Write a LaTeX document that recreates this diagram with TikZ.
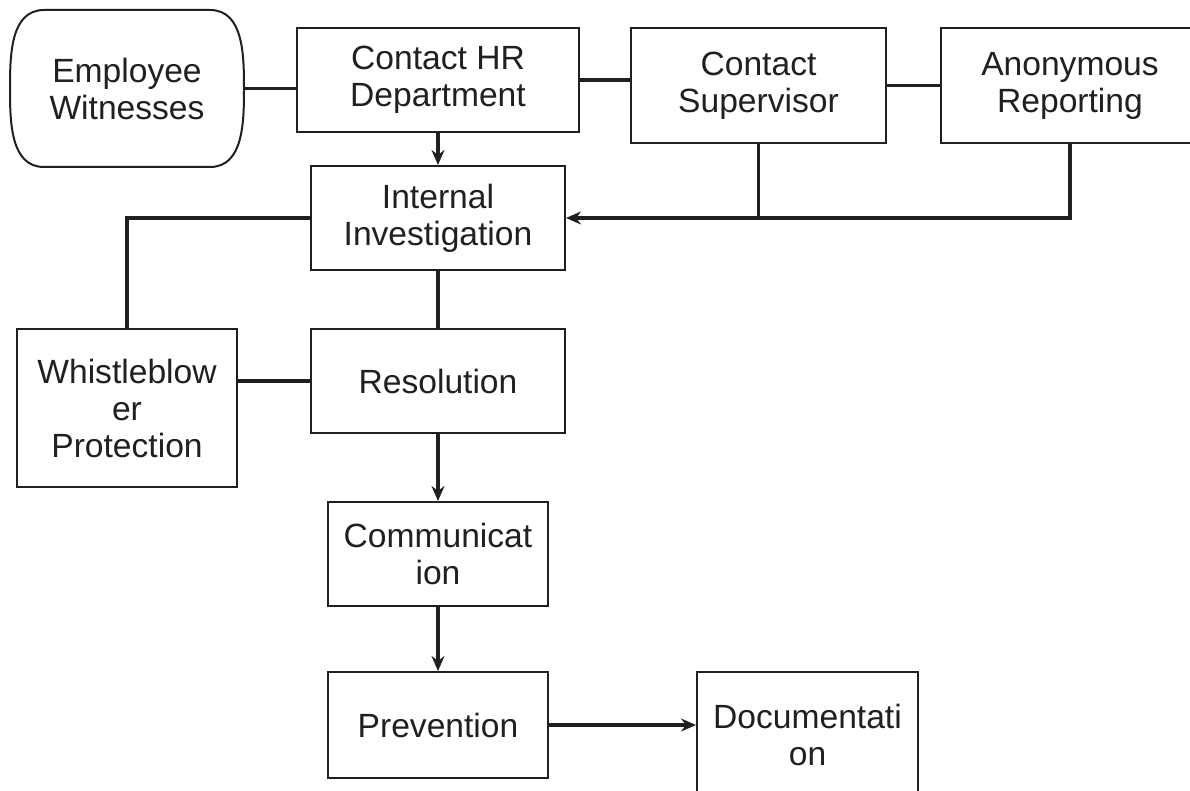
\documentclass[tikz,border=0pt]{standalone}
\usepackage{fontspec}
\setmainfont{Liberation Sans}
\usetikzlibrary{arrows.meta}
\definecolor{ink}{HTML}{231F20}

\begin{document}
\begin{tikzpicture}[x=0.5pt, y=-0.5pt,
  boxstyle/.style={draw=ink, line width=1pt, align=center, inner sep=0pt, text=ink, font=\fontsize{16.8}{18.5}\selectfont},
  flowline/.style={draw=ink, line width=1.9pt},
  >={Stealth[length=7.5pt, width=6.5pt, inset=2.5pt]}]
  \fill[white] (0,0) rectangle (1190,791);
  \useasboundingbox (0,0) rectangle (1190,791);

  % top row
  \node [boxstyle, draw=none, minimum width=116pt, minimum height=77.5pt] (EmpWit) at (127,88.5) {Employee\\Witnesses};
  \draw [ink, line width=1pt] ([xshift=17pt]EmpWit.north west) -- ([xshift=-17pt]EmpWit.north east)
    to[out=0, in=90] (EmpWit.east) to[out=-90, in=0] ([xshift=-17pt]EmpWit.south east)
    -- ([xshift=17pt]EmpWit.south west) to[out=180, in=-90] (EmpWit.west) to[out=90, in=180] cycle;
  \node [boxstyle, minimum width=141pt, minimum height=52pt] (ContactHR) at (438,80) {Contact HR\\Department};
  \node [boxstyle, minimum width=127.5pt, minimum height=57.5pt] (ContactSup) at (758.5,85.5) {Contact\\Supervisor};
  \node [boxstyle, minimum width=129pt, minimum height=57.5pt] (AnonRep) at (1070,85.5) {Anonymous\\Reporting};

  % middle
  \node [boxstyle, minimum width=127pt, minimum height=52pt] (IntInv) at (438,218) {Internal\\Investigation};
  \node [boxstyle, minimum width=127pt, minimum height=52pt] (Resol) at (438,381) {Resolution};
  \node [boxstyle, minimum width=110pt, minimum height=79pt] (WbProt) at (127,408) {Whistleblow\\er\\Protection};

  % bottom
  \node [boxstyle, minimum width=110pt, minimum height=52pt] (Comm) at (438,554) {Communicat\\ion};
  \node [boxstyle, minimum width=110pt, minimum height=53pt] (Prev) at (438,725) {Prevention};
  \node [boxstyle, minimum width=110.5pt, minimum height=63pt] (Doc) at (807.5,735) {Documentati\\on};

  \draw [flowline] (EmpWit.east) -- (EmpWit.east -| ContactHR.west);
  \draw [flowline] (ContactHR.east) -- (ContactHR.east -| ContactSup.west);
  \draw [flowline] (ContactSup.east) -- (ContactSup.east -| AnonRep.west);
  \draw [flowline, ->] (ContactHR.south) -- (IntInv.north);
  \draw [flowline, ->] (AnonRep.south) |- (IntInv.east);
  \draw [flowline] (ContactSup.south) -- (ContactSup.south |- IntInv.east);
  \draw [flowline] (IntInv.west) -| (WbProt.north);
  \draw [flowline] (IntInv.south) -- (Resol.north);
  \draw [flowline] (Resol.west) -- (Resol.west -| WbProt.east);
  \draw [flowline, ->] (Resol.south) -- (Comm.north);
  \draw [flowline, ->] (Comm.south) -- (Prev.north);
  \draw [flowline, ->] (Prev.east) -- (Prev.east -| Doc.west);
\end{tikzpicture}
\end{document}
